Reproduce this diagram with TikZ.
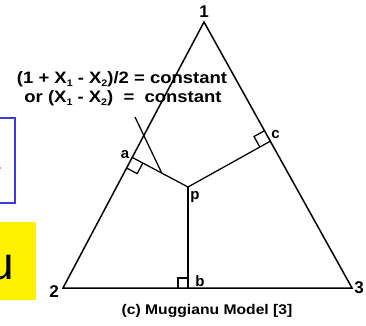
\documentclass[tikz,border=0pt]{standalone}
\usepackage{fontspec}
\setmainfont{Liberation Sans}
\usetikzlibrary{calc}
\newcommand\sbs[1]{\raisebox{-0.4ex}{\fontsize{9.5}{9.5}\selectfont #1}}
\begin{document}
\begin{tikzpicture}[x=1pt,y=-1pt,
  edge/.style={line width=1.5pt,line join=miter},
  thin/.style={line width=1.25pt},
  lbl/.style={inner sep=0pt,anchor=base,font=\fontsize{15}{15}\selectfont\bfseries},
  note/.style={inner sep=0pt,anchor=base,font=\fontsize{16.5}{16.5}\selectfont\bfseries,xscale=1.12}]
\useasboundingbox (0,0) rectangle (366,325);
\fill[white] (0,0) rectangle (366,325);
% side decorations
\draw[line width=1.5pt,draw={rgb,255:red,60;green,60;blue,220}] (-3,118) rectangle (15,203);
\fill[red] (0,168) circle (0.8);
\fill[yellow] (-3,222) rectangle (36,300);
\node[inner sep=0pt,anchor=base east,font=\fontsize{46}{46}\selectfont] (u) at (14,279) {u};
% triangle
\coordinate (v1) at (204,22);
\coordinate (v2) at (63,288);
\coordinate (v3) at (352,288);
\coordinate (p) at (188,187);
\draw[edge] (v1) -- (v2) -- (v3) -- cycle;
\coordinate (a) at ($(v1)!(p)!(v2)$);
\coordinate (c) at ($(v1)!(p)!(v3)$);
\coordinate (b) at ($(v2)!(p)!(v3)$);
\draw[thin] (a) -- (p) -- (c);
\draw[thin] (p) -- (b);
% right-angle marks
\coordinate (a1) at ($(a)!12pt!(v2)$);
\coordinate (a2) at ($(a)!12pt!(p)$);
\draw[thin] (a1) -- ++($(a2)-(a)$) -- (a2);
\coordinate (c1) at ($(c)!12pt!(v1)$);
\coordinate (c2) at ($(c)!12pt!(p)$);
\draw[thin] (c1) -- ++($(c2)-(c)$) -- (c2);
\coordinate (b1) at ($(b)!10pt!(v2)$);
\coordinate (b2) at ($(b)!10pt!(p)$);
\draw[thin] (b1) -- ++($(b2)-(b)$) -- (b2);
% leader line
\coordinate (lt) at (135,117);
\coordinate (lm) at ($(a)!0.53!(p)$);
\draw[thin] (lt) -- (lm);
% labels
\node[lbl,font=\fontsize{17}{17}\selectfont\bfseries] (n1) at (204,17) {1};
\node[lbl,font=\fontsize{17}{17}\selectfont\bfseries] (n2) at (54,297) {2};
\node[lbl,font=\fontsize{17}{17}\selectfont\bfseries] (n3) at (359,293) {3};
\node[lbl] (la) at (125,158) {a};
\node[lbl] (lc) at (275.5,138) {c};
\node[lbl] (lp) at (195,199) {p};
\node[lbl] (lb) at (200,286) {b};
\node[note] (t1) at (122,83) {(1 + X\sbs{1} - X\sbs{2})/2 = constant};
\node[note] (t2) at (123,102) {or (X\sbs{1} - X\sbs{2})\ \ =\ \ constant};
\node[note,font=\fontsize{14}{14}\selectfont\bfseries] (cap) at (207,314) {(c) Muggianu Model [3]};
\end{tikzpicture}
\end{document}
